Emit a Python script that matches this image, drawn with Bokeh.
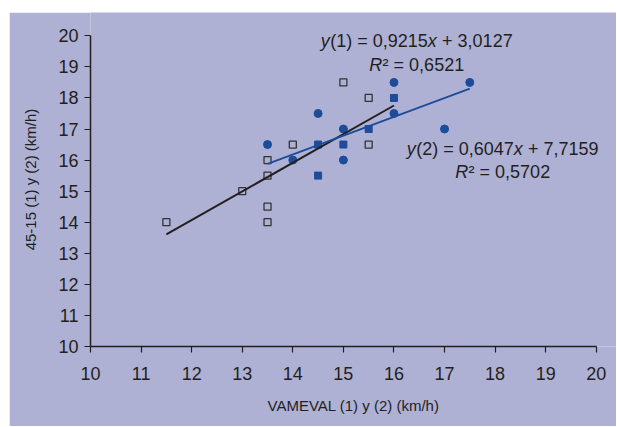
from bokeh.plotting import figure
from bokeh.models import Label, Range1d, FixedTicker
from bokeh.embed import file_html
from bokeh.resources import INLINE

# ---- data ----
s1_x = [11.5, 13, 13.5, 13.5, 13.5, 13.5, 14, 15, 15.5, 15.5]
s1_y = [14, 15, 14, 14.5, 15.5, 16, 16.5, 18.5, 18, 16.5]
c_x = [13.5, 14, 14.5, 15, 15, 16, 16, 17, 17.5]
c_y = [16.5, 16, 17.5, 17, 16, 18.5, 17.5, 17, 18.5]
q_x = [14.5, 14.5, 15, 15.5, 16]
q_y = [16.5, 15.5, 16.5, 17, 18]
fit1 = (0.9215, 3.0127)
fit2 = (0.6047, 7.7159)
fit1_x = [11.5, 16]
fit2_x = [13.5, 17.5]
ticks = list(range(10, 21))
# equation texts as (piece, italic) runs
eq1 = [("y", True), ("(1) = 0,9215", False), ("x", True), (" + 3,0127", False)]
r1 = [("R", True), ("² = 0,6521", False)]
eq2 = [("y", True), ("(2) = 0,6047", False), ("x", True), (" + 7,7159", False)]
r2 = [("R", True), ("² = 0,5702", False)]

BG = "#aeb1d4"
BLUE = "#1d4c9a"
DARK = "#231f20"
FONT = "Liberation Sans"

p = figure(width=607, height=414, output_backend="svg", toolbar_location=None,
           x_range=Range1d(10, 20.4), y_range=Range1d(10, 20.75),
           min_border_left=81, min_border_top=0, min_border_right=0, min_border_bottom=80)
p.styles = {"margin-left": "9px", "margin-top": "12px"}
p.background_fill_color = BG
p.border_fill_color = BG
p.outline_line_color = None
p.grid.grid_line_color = None

for ax in (p.xaxis[0], p.yaxis[0]):
    ax.ticker = FixedTicker(ticks=ticks)
    ax.bounds = (10, 20)
    ax.minor_tick_line_color = None
    ax.major_tick_in = 0
    ax.major_tick_out = 6
    ax.axis_line_color = DARK
    ax.axis_line_width = 1.5
    ax.major_tick_line_color = DARK
    ax.major_tick_line_width = 1.2
    ax.major_label_text_font = FONT
    ax.major_label_text_font_size = "18px"
    ax.major_label_text_color = DARK
    ax.axis_label_text_font = FONT
    ax.axis_label_text_font_size = "15px"
    ax.axis_label_text_font_style = "normal"
    ax.axis_label_text_color = DARK

p.xaxis.axis_label = "VAMEVAL (1) y (2) (km/h)"
p.yaxis.axis_label = "45-15 (1) y (2) (km/h)"
p.xaxis.major_label_standoff = 14
p.yaxis.major_label_standoff = 6
p.xaxis.axis_label_standoff = 14
p.yaxis.axis_label_standoff = 16

p.scatter(s1_x, s1_y, marker="square", size=7, fill_color=None, line_color="#333333", line_width=1.3)
p.scatter(c_x, c_y, marker="circle", size=8, fill_color=BLUE, line_color=BLUE)
p.scatter(q_x, q_y, marker="square", size=7, fill_color=BLUE, line_color=BLUE)

p.line(fit1_x, [fit1[0] * x + fit1[1] for x in fit1_x], line_color=DARK, line_width=2)
p.line(fit2_x, [fit2[0] * x + fit2[1] for x in fit2_x], line_color=BLUE, line_width=2)

# approximate Liberation Sans advance widths (em) to lay out mixed italic runs
W = {"(": .333, ")": .333, " ": .278, "=": .584, "+": .584, ",": .278, "x": .52, "y": .52,
     "R": .74, "²": .333}
FS = 18


def width(s):
    return sum(W.get(ch, .556) for ch in s) * FS


def put(runs, x, y):
    total = sum(width(t) for t, _ in runs)
    off = -total / 2
    for t, it in runs:
        stripped = t.lstrip(" ")
        off += width(t[:len(t) - len(stripped)])
        p.add_layout(Label(x=x, y=y, x_offset=off, text=stripped, text_align="left", text_baseline="middle",
                           text_font=FONT, text_font_size=f"{FS}px", text_color=DARK,
                           text_font_style="italic" if it else "normal"))
        off += width(stripped)


put(eq1, 16.45, 19.84)
put(r1, 16.45, 19.06)
put(eq2, 18.15, 16.35)
put(r2, 18.15, 15.61)

open("out.html", "w").write(file_html(p, INLINE))
